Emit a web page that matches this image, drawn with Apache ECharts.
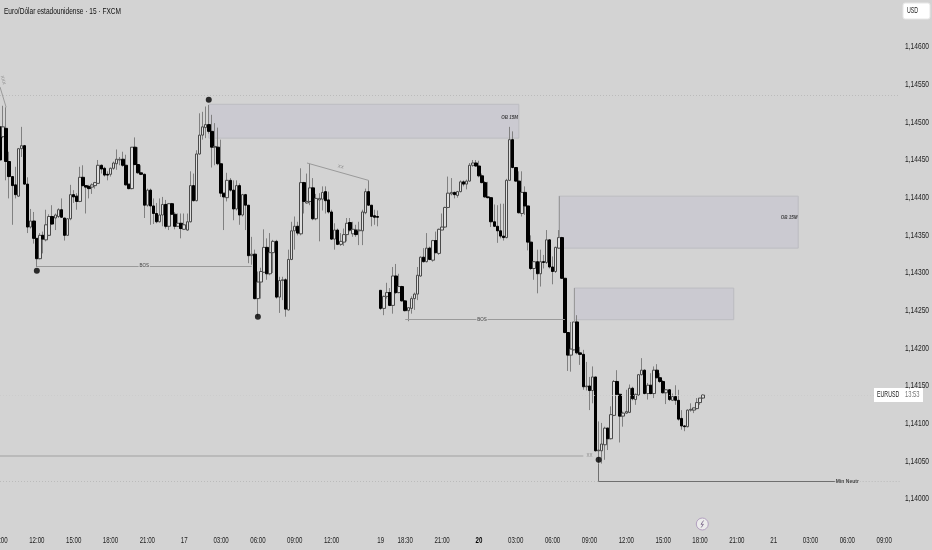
<!DOCTYPE html>
<html><head><meta charset="utf-8">
<style>html,body{margin:0;padding:0;background:#d3d3d3}#c{width:932px;height:550px}</style>
<script src="https://cdn.jsdelivr.net/npm/echarts@6/dist/echarts.min.js"></script>
</head><body><div id="c"></div>
<script>
const opens=[1.14494,1.14481,1.14492,1.14448,1.14428,1.14417,1.14402,1.14465,1.14469,1.14418,
1.14361,1.14369,1.14346,1.14319,1.14350,1.14344,1.14350,1.14375,1.14373,1.14375,
1.14384,1.14373,1.14350,1.14372,1.14404,1.14402,1.14395,1.14427,1.14416,1.14415,
1.14414,1.14416,1.14419,1.14443,1.14439,1.14431,1.14431,1.14439,1.14445,1.14450,
1.14451,1.14443,1.14418,1.14412,1.14467,1.14444,1.14433,1.14431,1.14390,1.14410,
1.14389,1.14379,1.14368,1.14377,1.14391,1.14362,1.14392,1.14378,1.14362,1.14366,
1.14358,1.14357,1.14368,1.14416,1.14396,1.14458,1.14483,1.14493,1.14497,1.14488,
1.14467,1.14467,1.14445,1.14406,1.14400,1.14423,1.14410,1.14385,1.14416,1.14377,
1.14404,1.14390,1.14323,1.14325,1.14266,1.14288,1.14301,1.14334,1.14299,1.14327,
1.14342,1.14268,1.14290,1.14291,1.14251,1.14318,1.14356,1.14362,1.14352,1.14420,
1.14393,1.14395,1.14413,1.14372,1.14397,1.14398,1.14408,1.14397,1.14381,1.14345,
1.14357,1.14338,1.14341,1.14351,1.14367,1.14352,1.14357,1.14356,1.14356,1.14380,
1.14408,1.14390,1.14376,1.14375,1.14277,1.14253,1.14269,1.14274,1.14257,1.14296,
1.14274,1.14282,1.14263,1.14250,1.14253,1.14266,1.14272,1.14296,1.14321,1.14315,
1.14333,1.14317,1.14343,1.14326,1.14357,1.14361,1.14387,1.14405,1.14407,1.14403,
1.14408,1.14421,1.14418,1.14422,1.14443,1.14446,1.14442,1.14429,1.14420,1.14401,
1.14400,1.14368,1.14362,1.14356,1.14349,1.14347,1.14423,1.14477,1.14440,1.14422,
1.14379,1.14407,1.14389,1.14341,1.14306,1.14315,1.14299,1.14315,1.14314,1.14344,
1.14308,1.14302,1.14333,1.14347,1.14293,1.14221,1.14191,1.14198,1.14235,1.14194,
1.14192,1.14149,1.14150,1.14144,1.14162,1.14064,1.14064,1.14072,1.14094,1.14080,
1.14111,1.14156,1.14139,1.14110,1.14114,1.14115,1.14147,1.14132,1.14138,1.14165,
1.14171,1.14140,1.14151,1.14140,1.14171,1.14161,1.14156,1.14141,1.14145,1.14131,
1.14136,1.14131,1.14107,1.14097,1.14096,1.14118,1.14118,1.14120,1.14128,1.14134];
const closes=[1.14450,1.14494,1.14448,1.14428,1.14416,1.14404,1.14465,1.14469,1.14418,1.14361,
1.14369,1.14346,1.14319,1.14350,1.14345,1.14364,1.14375,1.14365,1.14377,1.14384,
1.14374,1.14350,1.14372,1.14404,1.14401,1.14395,1.14427,1.14416,1.14414,1.14412,
1.14417,1.14420,1.14443,1.14438,1.14430,1.14430,1.14439,1.14446,1.14451,1.14451,
1.14443,1.14417,1.14412,1.14467,1.14444,1.14433,1.14431,1.14390,1.14410,1.14389,
1.14379,1.14368,1.14377,1.14391,1.14362,1.14392,1.14378,1.14362,1.14366,1.14359,
1.14364,1.14368,1.14416,1.14396,1.14458,1.14483,1.14494,1.14497,1.14488,1.14467,
1.14468,1.14445,1.14406,1.14401,1.14423,1.14410,1.14385,1.14416,1.14377,1.14404,
1.14390,1.14323,1.14325,1.14266,1.14288,1.14302,1.14334,1.14299,1.14327,1.14342,
1.14268,1.14290,1.14291,1.14252,1.14318,1.14356,1.14362,1.14353,1.14420,1.14395,
1.14395,1.14413,1.14372,1.14399,1.14399,1.14407,1.14396,1.14381,1.14345,1.14357,
1.14338,1.14342,1.14351,1.14366,1.14357,1.14358,1.14351,1.14357,1.14381,1.14408,
1.14390,1.14375,1.14374,1.14374,1.14253,1.14269,1.14274,1.14257,1.14296,1.14274,
1.14282,1.14263,1.14250,1.14254,1.14266,1.14272,1.14297,1.14321,1.14315,1.14333,
1.14318,1.14343,1.14327,1.14358,1.14361,1.14387,1.14406,1.14407,1.14404,1.14408,
1.14421,1.14418,1.14422,1.14443,1.14446,1.14442,1.14429,1.14420,1.14401,1.14400,
1.14368,1.14362,1.14356,1.14349,1.14347,1.14423,1.14477,1.14440,1.14422,1.14380,
1.14407,1.14389,1.14341,1.14306,1.14315,1.14299,1.14315,1.14314,1.14344,1.14308,
1.14302,1.14334,1.14347,1.14293,1.14221,1.14191,1.14199,1.14235,1.14194,1.14192,
1.14149,1.14150,1.14144,1.14162,1.14064,1.14065,1.14073,1.14094,1.14080,1.14112,
1.14156,1.14139,1.14110,1.14114,1.14116,1.14147,1.14133,1.14139,1.14165,1.14171,
1.14140,1.14151,1.14140,1.14171,1.14161,1.14156,1.14141,1.14145,1.14132,1.14136,
1.14131,1.14106,1.14097,1.14096,1.14118,1.14119,1.14121,1.14128,1.14134,1.14138];
const highs=[1.14543,1.14522,1.14520,1.14461,1.14428,1.14441,1.14466,1.14494,1.14470,1.14427,
1.14385,1.14381,1.14346,1.14353,1.14355,1.14384,1.14378,1.14390,1.14379,1.14386,
1.14399,1.14373,1.14373,1.14417,1.14410,1.14406,1.14441,1.14443,1.14416,1.14417,
1.14419,1.14421,1.14450,1.14444,1.14441,1.14435,1.14440,1.14448,1.14464,1.14454,
1.14461,1.14457,1.14418,1.14467,1.14480,1.14467,1.14443,1.14432,1.14412,1.14412,
1.14399,1.14393,1.14399,1.14401,1.14397,1.14393,1.14393,1.14381,1.14379,1.14379,
1.14379,1.14379,1.14435,1.14432,1.14463,1.14512,1.14514,1.14521,1.14523,1.14510,
1.14499,1.14493,1.14477,1.14406,1.14433,1.14426,1.14423,1.14423,1.14419,1.14405,
1.14405,1.14390,1.14348,1.14331,1.14302,1.14307,1.14358,1.14346,1.14353,1.14344,
1.14344,1.14295,1.14295,1.14293,1.14331,1.14368,1.14375,1.14368,1.14439,1.14421,
1.14432,1.14445,1.14426,1.14405,1.14406,1.14415,1.14415,1.14408,1.14384,1.14366,
1.14359,1.14353,1.14359,1.14373,1.14373,1.14368,1.14364,1.14368,1.14384,1.14412,
1.14423,1.14390,1.14384,1.14383,1.14277,1.14270,1.14287,1.14280,1.14308,1.14312,
1.14299,1.14283,1.14264,1.14254,1.14269,1.14274,1.14308,1.14322,1.14333,1.14353,
1.14335,1.14344,1.14355,1.14359,1.14379,1.14388,1.14428,1.14426,1.14408,1.14409,
1.14423,1.14423,1.14424,1.14446,1.14450,1.14450,1.14449,1.14432,1.14422,1.14421,
1.14400,1.14391,1.14390,1.14392,1.14392,1.14425,1.14494,1.14488,1.14440,1.14435,
1.14435,1.14415,1.14389,1.14350,1.14315,1.14331,1.14331,1.14324,1.14357,1.14345,
1.14322,1.14335,1.14357,1.14348,1.14293,1.14221,1.14235,1.14235,1.14244,1.14202,
1.14198,1.14182,1.14162,1.14176,1.14162,1.14103,1.14101,1.14096,1.14095,1.14123,
1.14158,1.14171,1.14140,1.14116,1.14145,1.14152,1.14149,1.14140,1.14166,1.14187,
1.14172,1.14154,1.14167,1.14176,1.14179,1.14167,1.14158,1.14146,1.14146,1.14140,
1.14151,1.14145,1.14118,1.14098,1.14119,1.14127,1.14121,1.14134,1.14134,1.14139];
const lows=[1.14448,1.14479,1.14423,1.14399,1.14364,1.14399,1.14401,1.14454,1.14417,1.14353,
1.14359,1.14339,1.14308,1.14318,1.14326,1.14342,1.14349,1.14364,1.14357,1.14373,
1.14373,1.14343,1.14350,1.14370,1.14393,1.14384,1.14394,1.14415,1.14379,1.14399,
1.14405,1.14412,1.14419,1.14432,1.14428,1.14423,1.14428,1.14437,1.14437,1.14443,
1.14441,1.14416,1.14411,1.14411,1.14443,1.14432,1.14430,1.14373,1.14388,1.14364,
1.14365,1.14366,1.14367,1.14362,1.14359,1.14357,1.14377,1.14358,1.14361,1.14346,
1.14357,1.14356,1.14367,1.14395,1.14395,1.14457,1.14477,1.14479,1.14485,1.14440,
1.14443,1.14443,1.14401,1.14357,1.14395,1.14408,1.14370,1.14383,1.14364,1.14375,
1.14357,1.14313,1.14311,1.14265,1.14242,1.14266,1.14300,1.14291,1.14297,1.14300,
1.14266,1.14247,1.14264,1.14242,1.14250,1.14317,1.14331,1.14350,1.14350,1.14379,
1.14392,1.14390,1.14370,1.14370,1.14342,1.14383,1.14379,1.14379,1.14344,1.14331,
1.14337,1.14336,1.14336,1.14342,1.14355,1.14348,1.14348,1.14337,1.14337,1.14378,
1.14389,1.14362,1.14364,1.14362,1.14251,1.14244,1.14266,1.14256,1.14246,1.14272,
1.14273,1.14262,1.14249,1.14236,1.14246,1.14251,1.14264,1.14295,1.14314,1.14314,
1.14317,1.14315,1.14326,1.14324,1.14357,1.14360,1.14386,1.14403,1.14399,1.14400,
1.14407,1.14415,1.14411,1.14421,1.14441,1.14441,1.14427,1.14419,1.14400,1.14399,
1.14361,1.14361,1.14340,1.14346,1.14343,1.14346,1.14422,1.14439,1.14421,1.14379,
1.14375,1.14377,1.14330,1.14304,1.14291,1.14273,1.14282,1.14306,1.14312,1.14306,
1.14285,1.14300,1.14332,1.14292,1.14220,1.14170,1.14169,1.14197,1.14192,1.14178,
1.14145,1.14144,1.14118,1.14127,1.14063,1.14047,1.14047,1.14052,1.14065,1.14079,
1.14110,1.14138,1.14075,1.14096,1.14113,1.14114,1.14131,1.14125,1.14137,1.14164,
1.14139,1.14132,1.14139,1.14134,1.14160,1.14154,1.14140,1.14126,1.14130,1.14130,
1.14125,1.14104,1.14092,1.14090,1.14095,1.14116,1.14114,1.14119,1.14125,1.14133];

const timeTickSlots=[0,12,24,36,48,60,72,84,96,108,124,132,144,156,168,180,192,204,216,228,240,252,264,276,288];
const timeTickLabels=['09:00','12:00','15:00','18:00','21:00','17','03:00','06:00','09:00','12:00','19','18:30','21:00','20','03:00','06:00','09:00','12:00','15:00','18:00','21:00','21','03:00','06:00','09:00'];
const slotCount=294;
const priceTicks=[1.140,1.1405,1.141,1.1415,1.142,1.1425,1.143,1.1435,1.144,1.1445,1.145,1.1455,1.146];

// Zones: [first slot, last slot, top price, bottom price]
const zones=[[68,169,1.14524,1.14479],[182,260,1.14402,1.14333],[187,239,1.14280,1.14238]];
// Solid segments: [slot, price, slot, price]
const thinLines=[[12,1.14309,82,1.14309],[132,1.14238,184,1.14238],[100,1.14446,120,1.14423],[0,1.14547,2,1.14520],[182,1.14402,182,1.14347],[187,1.14280,187,1.14235]];
const neutralLines=[[195,1.14047,195,1.14023],[195,1.14023,273,1.14023]];
const wideLines=[[0,1.14057,190,1.14057]];
const dottedLines=[[0,1.14536,293,1.14536],[0,1.14023,195,1.14023],[280,1.14023,293,1.14023]];
const fadedDotted=[[0,1.14138,293,1.14138]];
// Swing dots: [slot, price]
const swingDots=[[68,1.14530],[12,1.14303],[84,1.14242],[195,1.14052]];
// Small notes: [slot, price, text, tilt]
const notes=[[47,1.14309,'BOS',0],[157,1.14238,'BOS',0],[111,1.14441,'XX',-15],[192,1.14057,'XX',0],[1,1.14556,'XXX',-75],[166,1.14506,'OB 15M',0],[257,1.14373,'OB 15M',0],[276,1.14023,'Min Neutr',0]];

const FONT='"Liberation Sans",sans-serif';
const BG='#d3d3d3';
const slots=Array.from({length:slotCount},(_,i)=>String(i));
const wicks=opens.map((o,i)=>[o,closes[i],lows[i],highs[i]]);
const bodies=opens.map((o,i)=>[o,closes[i],Math.min(o,closes[i]),Math.max(o,closes[i])]);

function segSeries(list,style,z){
  return {type:'line',silent:true,symbol:'none',z:z,animation:false,
    markLine:{silent:true,symbol:'none',animation:false,label:{show:false},lineStyle:style,
      data:list.map(s=>[{coord:[String(s[0]),s[1]]},{coord:[String(s[2]),s[3]]}])},data:[]};
}
const chart=echarts.init(document.getElementById('c'),null,{renderer:'canvas'});
chart.setOption({
  animation:false,backgroundColor:BG,
  grid:{left:-1.535,width:902.6,top:9.33,height:489.67,outerBoundsMode:'none'},
  xAxis:{type:'category',data:slots,boundaryGap:true,
    axisLine:{show:false},axisTick:{show:false},splitLine:{show:false},axisLabel:{show:false}},
  yAxis:{type:'value',position:'right',min:1.14,max:1.1465,interval:0.0005,
    axisLine:{show:false},axisTick:{show:false},splitLine:{show:false},axisLabel:{show:false}},
  series:[
    {type:'line',z:1,silent:true,symbol:'none',data:[],
      markArea:{silent:true,animation:false,
        itemStyle:{color:'#cbcad1',borderColor:'#bcbcc1',borderWidth:1},
        data:zones.map(z=>[{coord:[String(z[0]),z[2]]},{coord:[String(z[1]),z[3]]}])}},
    segSeries(dottedLines,{color:'#b0b0b0',type:[1,2],width:0.7},2),
    segSeries(fadedDotted,{color:'#c8c8c8',type:[1,2],width:0.7},2),
    segSeries(wideLines,{color:'#b2b2b2',type:'solid',width:1.5},2),
    segSeries(thinLines,{color:'#9a9a9a',type:'solid',width:1},2),
    segSeries(neutralLines,{color:'#6f6f6f',type:'solid',width:1},2),
    {type:'candlestick',z:3,data:wicks,barWidth:1,
      itemStyle:{color:'#808080',color0:'#808080',borderColor:'#808080',borderColor0:'#808080',borderWidth:1}},
    {type:'candlestick',z:4,data:bodies,barWidth:3,
      itemStyle:{color:'#dedede',color0:'#000',borderColor:'#4a4a4a',borderColor0:'#000',borderWidth:1}},
    {type:'scatter',z:5,symbol:'circle',symbolSize:6,itemStyle:{color:'#000'},data:swingDots.map(d=>[String(d[0]),d[1]])},
    {type:'scatter',z:6,symbolSize:0,silent:true,
      data:notes.map(n=>({value:[String(n[0]),n[1]],
        label:{show:true,position:'inside',formatter:n[2],rotate:n[3],fontSize:n[2]==='Min Neutr'?5:4.5,fontFamily:FONT,
          fontWeight:n[2]==='BOS'||n[2]==='XX'||n[2]==='XXX'?'normal':'bold',
          fontStyle:n[2]==='OB 15M'?'italic':'normal',
          color:n[2]==='XX'||n[2]==='XXX'?'#777':'#222',
          backgroundColor:n[2]==='BOS'||n[2]==='Min Neutr'||n[3]===0&&n[2]==='XX'?BG:'transparent',padding:[0,1]}}))}
  ]
});
// Tick and header text is squeezed horizontally like the reference's narrow face.
function squeezed(text,x,y,size,sx,fill,weight,align){
  return {type:'text',x:x,y:y,scaleX:sx,z:21,silent:true,
    style:{text:text,font:(weight||'normal')+' '+size+'px '+FONT,fill:fill||'#222',align:align||'left',verticalAlign:'middle'}};
}
const texts=[];
priceTicks.forEach(p=>{
  texts.push(squeezed(p.toFixed(5).replace('.',','),905,chart.convertToPixel({yAxisIndex:0},p),9,0.74));
});
timeTickSlots.forEach((s,i)=>{
  const t=timeTickLabels[i];
  texts.push(squeezed(t,chart.convertToPixel({xAxisIndex:0},String(s)),541,8.5,0.72,t==='20'?'#000':'#222',t==='20'?'bold':'normal','center'));
});
chart.setOption({graphic:[
  squeezed('Euro/Dólar estadounidense · 15 · FXCM',4,11,9.5,0.69,'#111','500'),
  {type:'rect',z:20,silent:true,shape:{x:903,y:3,width:27,height:16,r:2},style:{fill:'#fff',stroke:'#e6e6e6'}},
  squeezed('USD',907,11,8.5,0.62),
  {type:'rect',z:20,silent:true,shape:{x:874,y:388,width:49,height:14},style:{fill:'#fff'}},
  squeezed('EURUSD',877,395,8.5,0.62),
  squeezed('13:53',905,395,8.5,0.68,'#777'),
  {type:'circle',z:20,silent:true,shape:{cx:702.3,cy:524,r:6},style:{fill:'#ececec',stroke:'#b3a0c0',lineWidth:1}},
  {type:'polyline',z:21,silent:true,shape:{points:[[703.6,520.5],[701,524.3],[703.4,524.3],[701.2,527.5]]},style:{fill:'none',stroke:'#7d6a8c',lineWidth:0.9}},
  ...texts
]});
</script></body></html>
